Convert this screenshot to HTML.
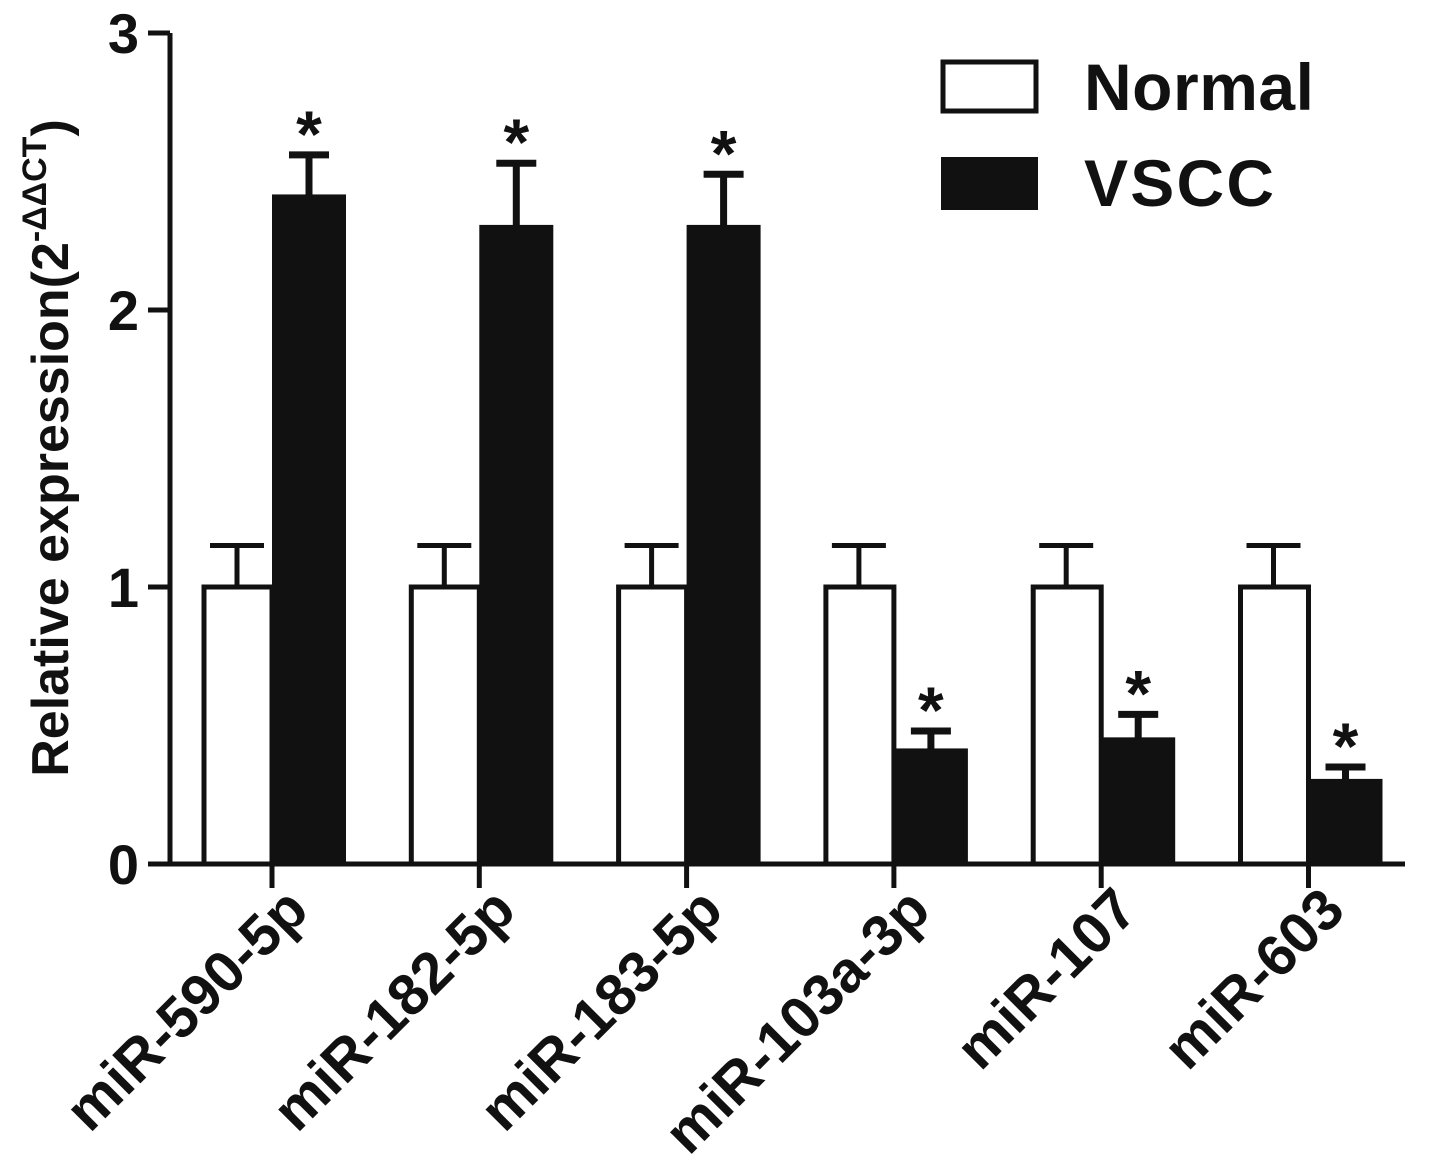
<!DOCTYPE html>
<html><head><meta charset="utf-8"><style>
html,body{margin:0;padding:0;background:#fff;}
svg{display:block;font-family:"Liberation Sans",Arial,sans-serif;}
</style></head><body>
<svg id="chart" width="1441" height="1163" viewBox="0 0 1441 1163">
<g id="axes"></g>
<g id="bars"></g>
<g id="labels"></g>
<g id="legend">
  <rect x="943" y="62" width="93" height="49" fill="#fff" stroke="#111" stroke-width="5"/>
  <text x="1084" y="110" font-size="66" font-weight="bold" textLength="230" fill="#111">Normal</text>
  <rect x="941" y="157" width="97" height="53" fill="#111"/>
  <text x="1084" y="206" font-size="66" font-weight="bold" textLength="190" fill="#111">VSCC</text>
</g>
<text transform="translate(68,448) rotate(-90)" text-anchor="middle" font-size="52" font-weight="bold" fill="#111">Relative expression(2<tspan dy="-22" font-size="34">-ΔΔCT</tspan><tspan dy="22">)</tspan></text>
</svg>
<script>
const categories = ["miR-590-5p","miR-182-5p","miR-183-5p","miR-103a-3p","miR-107","miR-603"];
const normalValues = [1,1,1,1,1,1];
const normalErr = [0.15,0.15,0.15,0.15,0.15,0.15];
const vsccValues = [2.41,2.30,2.30,0.41,0.45,0.30];
const vsccErr = [0.15,0.23,0.19,0.07,0.09,0.05];
const yTicks = [0,1,2,3];

const NS="http://www.w3.org/2000/svg";
const y0=864, y3=33, xAxisStart=170, xAxisEnd=1405;
function yScale(v){return y0-(y0-y3)*v/3;}
function groupX(i){return 272+207.3*i;}
function mk(tag,attrs,parent){const e=document.createElementNS(NS,tag);for(const k in attrs)e.setAttribute(k,attrs[k]);parent.appendChild(e);return e;}
const axes=document.getElementById('axes'),bars=document.getElementById('bars'),labels=document.getElementById('labels');

let yl=mk('line',{x1:xAxisStart,y1:yScale(3),x2:xAxisStart,y2:y0+2,stroke:'#111','stroke-width':5},axes);


yTicks.forEach(t=>{
  const ln=mk('line',{x1:148,y1:yScale(t),x2:xAxisStart,y2:yScale(t),stroke:'#111','stroke-width':5},axes);
  
  
  const tx=mk('text',{x:139,y:yScale(t)+20,'text-anchor':'end','font-size':56,'font-weight':'bold',fill:'#111'},axes);
  tx.textContent=t;
  
  
});

categories.forEach((c,i)=>{
  const cx=groupX(i), w=70;
  const nTop=yScale(normalValues[i]);
  const ne=yScale(normalValues[i]+normalErr[i]);
  let e1=mk('path',{d:`M${cx-w/2} ${nTop}V${ne}M${cx-w/2-27} ${ne}H${cx-w/2+27}`,stroke:'#111','stroke-width':5,fill:'none'},bars);
  
  
  let nb=mk('rect',{x:cx-w+2,y:nTop,width:w-2,height:y0-nTop,fill:'#fff',stroke:'#111','stroke-width':5},bars);
  
  
  const vTop=yScale(vsccValues[i]);
  const ve=yScale(vsccValues[i]+vsccErr[i]);
  let e2=mk('path',{d:`M${cx+w/2+2} ${vTop}V${ve}M${cx+w/2+2-20} ${ve}H${cx+w/2+2+20}`,stroke:'#111','stroke-width':7,fill:'none'},bars);
  
  
  let vb=mk('rect',{x:cx,y:vTop-2,width:w+4,height:y0-vTop+2,fill:'#111'},bars);
  
  
  let st=mk('text',{x:cx+w/2+2,y:ve+2,'text-anchor':'middle','font-size':66,'font-weight':'bold',fill:'#111'},bars);
  st.textContent='*';
  
  
  let xt=mk('line',{x1:cx,y1:y0,x2:cx,y2:888,stroke:'#111','stroke-width':5},axes);
  
  
  let lb=mk('text',{transform:`translate(${cx+12},${886}) rotate(-45)`,'text-anchor':'end','font-size':58,'font-weight':'bold',fill:'#111',x:0,y:38},labels);
  lb.textContent=c;
  
  
});
let xl=mk('line',{x1:xAxisStart-2,y1:y0,x2:xAxisEnd,y2:y0,stroke:'#111','stroke-width':5},axes);


</script>
</body></html>
